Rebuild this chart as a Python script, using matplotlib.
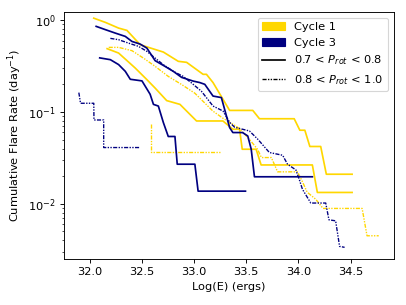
import matplotlib
matplotlib.use('Agg')
import matplotlib.pyplot as plt
from matplotlib.patches import Patch
from matplotlib.lines import Line2D

# cycle 1, 0.7 < Prot < 0.8 (upper gold)
c1_a_E = [32.038, 32.15, 32.276, 32.356, 32.483, 32.562, 32.705, 32.848, 32.928, 33.086, 33.118, 33.181,
          33.34, 33.562, 33.626, 33.959, 34.013, 34.061, 34.109, 34.213, 34.267, 34.514]
c1_a_R = [1.05, 0.944, 0.819, 0.773, 0.540, 0.505, 0.449, 0.356, 0.347, 0.257, 0.257, 0.209,
          0.104, 0.104, 0.0844, 0.0844, 0.0633, 0.0633, 0.0421, 0.0421, 0.0210, 0.0210]

# cycle 1, second solid
c1_b_E = [32.166, 32.276, 32.435, 32.547, 32.626, 32.737, 32.864, 33.023, 33.276, 33.371, 33.435, 33.461,
          33.594, 33.642, 34.133, 34.181, 34.514]
c1_b_R = [0.489, 0.438, 0.301, 0.225, 0.182, 0.133, 0.121, 0.0798, 0.0798, 0.0649, 0.0649, 0.0393,
          0.0393, 0.0265, 0.0265, 0.0133, 0.0133]

# cycle 1, 0.8 < Prot < 1.0
c1_c_E = [32.181, 32.276, 32.404, 32.514, 32.626, 32.752, 32.880, 33.007, 33.181, 33.276, 33.371, 33.435,
          33.530, 33.607, 33.645, 33.740, 33.800, 33.990, 34.035, 34.083, 34.166, 34.235, 34.61, 34.657, 34.769]
c1_c_R = [0.505, 0.505, 0.465, 0.386, 0.314, 0.244, 0.199, 0.160, 0.102, 0.0855, 0.0735, 0.066,
          0.0504, 0.0393, 0.0319, 0.0319, 0.0223, 0.0223, 0.0177, 0.0134, 0.0112, 0.00891, 0.00891, 0.00449, 0.00449]

c1_d_E = [32.585, 32.585, 33.251]
c1_d_R = [0.0735, 0.0367, 0.0367]

# cycle 3, solid
c3_a_E = [32.061, 32.15, 32.245, 32.34, 32.404, 32.483, 32.547, 32.626, 32.72, 32.80, 32.88, 32.99, 33.054,
          33.102, 33.181, 33.261, 33.34, 33.371, 33.464, 33.514, 33.547, 33.578, 34.133]
c3_a_R = [0.855, 0.787, 0.722, 0.665, 0.586, 0.548, 0.496, 0.362, 0.314, 0.277, 0.238, 0.217, 0.209,
          0.200, 0.149, 0.1435, 0.0677, 0.0597, 0.0597, 0.0548, 0.0393, 0.0197, 0.0197]

c3_b_E = [32.095, 32.197, 32.276, 32.34, 32.388, 32.5, 32.578, 32.61, 32.657, 32.705, 32.752, 32.816,
          32.838, 33.007, 33.038, 33.492]
c3_b_R = [0.388, 0.371, 0.328, 0.277, 0.227, 0.218, 0.156, 0.121, 0.116, 0.0767, 0.0541, 0.0541,
          0.0270, 0.0270, 0.01374, 0.01374]

# cycle 3, dash-dot
c3_c_E = [32.197, 32.276, 32.371, 32.467, 32.547, 32.626, 32.705, 32.80, 32.895, 32.975, 33.07, 33.181,
          33.276, 33.34, 33.388, 33.53, 33.61, 33.721, 33.848, 33.895, 33.975, 34.007, 34.038, 34.118,
          34.261, 34.292, 34.356, 34.394, 34.442]
c3_c_R = [0.633, 0.612, 0.562, 0.518, 0.457, 0.386, 0.327, 0.277, 0.244, 0.207, 0.168, 0.116,
          0.1025, 0.0773, 0.0682, 0.0621, 0.0505, 0.0362, 0.0338, 0.0270, 0.0234, 0.0185, 0.0144, 0.0102,
          0.0102, 0.0067, 0.00653, 0.00344, 0.00336]

c3_d_E = [31.895, 31.911, 32.038, 32.04, 32.133, 32.133, 32.483]
c3_d_R = [0.1625, 0.1244, 0.1244, 0.0818, 0.0818, 0.0410, 0.0410]

gold = '#FFD700'
navy = '#000080'
dashdot = (0, (3, 1, 1, 1, 1, 1))

fig = plt.figure(figsize=(4.96, 3.72), dpi=82)
ax = plt.gca()

ax.plot(c1_a_E, c1_a_R, color=gold, lw=1.5)
ax.plot(c1_b_E, c1_b_R, color=gold, lw=1.5)
ax.plot(c1_c_E, c1_c_R, color=gold, lw=1.2, ls=dashdot)
ax.plot(c1_d_E, c1_d_R, color=gold, lw=1.2, ls=dashdot)
ax.plot(c3_a_E, c3_a_R, color=navy, lw=1.5)
ax.plot(c3_b_E, c3_b_R, color=navy, lw=1.5)
ax.plot(c3_c_E, c3_c_R, color=navy, lw=1.2, ls=dashdot)
ax.plot(c3_d_E, c3_d_R, color=navy, lw=1.2, ls=dashdot)

ax.set_yscale('log')
ax.set_ylim(10 ** -2.6, 10 ** 0.09)
ax.set_xlabel('Log(E) (ergs)')
ax.set_ylabel('Cumulative Flare Rate (day$^{-1}$)')

handles = [Patch(color=gold, label='Cycle 1'),
           Patch(color=navy, label='Cycle 3'),
           Line2D([], [], color='k', ls='-', label='0.7 < $P_{rot}$ < 0.8'),
           Line2D([], [], color='k', ls=dashdot, lw=1.2, label='0.8 < $P_{rot}$ < 1.0')]
ax.legend(handles=handles, loc='upper right')

plt.subplots_adjust(left=0.157, right=0.968, top=0.961, bottom=0.151)
plt.savefig('out.png')
